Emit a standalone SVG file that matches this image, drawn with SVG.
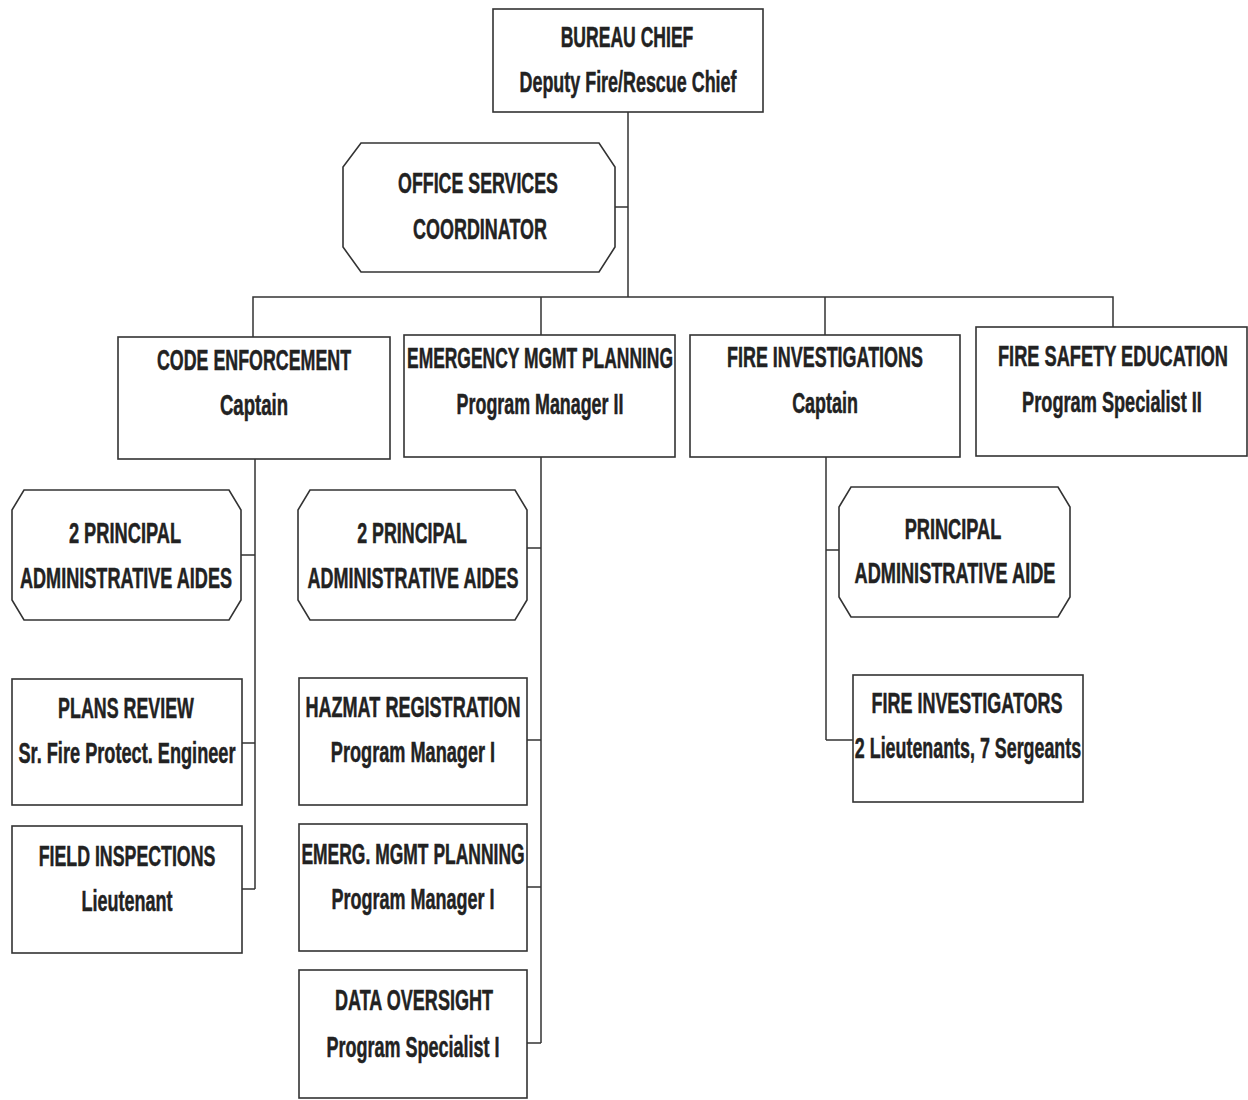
<svg xmlns="http://www.w3.org/2000/svg" width="1248" height="1100" viewBox="0 0 1248 1100">
<style>
.box{fill:#fff;stroke:#333;stroke-width:1.6}
.ln{fill:none;stroke:#333;stroke-width:1.5}
text{font-family:"Liberation Sans",Arial,sans-serif;font-weight:bold;font-size:30px;fill:#222;stroke:#222;stroke-width:0.5;text-anchor:middle}
</style>
<rect width="1248" height="1100" fill="#fff"/>
<g id="connectors">
<path class="ln" d="M628 112V297M615 207H628"/>
<path class="ln" d="M253 337V297H1113V327M541 297V335M825 297V335"/>
<path class="ln" d="M255 459V889M241 555H255M242 743H255M242 889H255"/>
<path class="ln" d="M541 457V1043M527 548H541M527 740H541M527 887H541M527 1043H541"/>
<path class="ln" d="M826 457V740M826 550H839M826 740H853"/>
</g>
<g id="bureau-chief">
<rect class="box" x="493" y="9" width="270" height="103"/>
<text transform="matrix(.62 0 0 1 627 0)" y="47" textLength="214" lengthAdjust="spacingAndGlyphs">BUREAU CHIEF</text>
<text transform="matrix(.62 0 0 1 628 0)" y="92" textLength="350" lengthAdjust="spacingAndGlyphs">Deputy Fire/Rescue Chief</text>
</g>
<g id="office-services">
<path class="box" d="M361 143H599L615 167V247L599 272H361L343 247V167Z"/>
<text transform="matrix(.62 0 0 1 478 0)" y="193" textLength="258" lengthAdjust="spacingAndGlyphs">OFFICE SERVICES</text>
<text transform="matrix(.62 0 0 1 480 0)" y="239" textLength="216" lengthAdjust="spacingAndGlyphs">COORDINATOR</text>
</g>
<g id="code-enforcement">
<rect class="box" x="118" y="337" width="272" height="122"/>
<text transform="matrix(.62 0 0 1 254 0)" y="370" textLength="313" lengthAdjust="spacingAndGlyphs">CODE ENFORCEMENT</text>
<text transform="matrix(.62 0 0 1 254 0)" y="415" textLength="110" lengthAdjust="spacingAndGlyphs">Captain</text>
</g>
<g id="emergency-mgmt">
<rect class="box" x="404" y="335" width="271" height="122"/>
<text transform="matrix(.62 0 0 1 540 0)" y="368" textLength="429" lengthAdjust="spacingAndGlyphs">EMERGENCY MGMT PLANNING</text>
<text transform="matrix(.62 0 0 1 540 0)" y="414" textLength="269" lengthAdjust="spacingAndGlyphs">Program Manager II</text>
</g>
<g id="fire-investigations">
<rect class="box" x="690" y="335" width="270" height="122"/>
<text transform="matrix(.62 0 0 1 825 0)" y="367" textLength="316" lengthAdjust="spacingAndGlyphs">FIRE INVESTIGATIONS</text>
<text transform="matrix(.62 0 0 1 825 0)" y="413" textLength="106" lengthAdjust="spacingAndGlyphs">Captain</text>
</g>
<g id="fire-safety-education">
<rect class="box" x="976" y="327" width="271" height="129"/>
<text transform="matrix(.62 0 0 1 1113 0)" y="366" textLength="371" lengthAdjust="spacingAndGlyphs">FIRE SAFETY EDUCATION</text>
<text transform="matrix(.62 0 0 1 1112 0)" y="412" textLength="290" lengthAdjust="spacingAndGlyphs">Program Specialist II</text>
</g>
<g id="aides-code">
<path class="box" d="M24 490H229L241 510V600L229 620H24L12 600V510Z"/>
<text transform="matrix(.62 0 0 1 125 0)" y="543" textLength="181" lengthAdjust="spacingAndGlyphs">2 PRINCIPAL</text>
<text transform="matrix(.62 0 0 1 126 0)" y="588" textLength="342" lengthAdjust="spacingAndGlyphs">ADMINISTRATIVE AIDES</text>
</g>
<g id="plans-review">
<rect class="box" x="12" y="679" width="230" height="126"/>
<text transform="matrix(.62 0 0 1 126 0)" y="718" textLength="219" lengthAdjust="spacingAndGlyphs">PLANS REVIEW</text>
<text transform="matrix(.62 0 0 1 127 0)" y="763" textLength="350" lengthAdjust="spacingAndGlyphs">Sr. Fire Protect. Engineer</text>
</g>
<g id="field-inspections">
<rect class="box" x="12" y="826" width="230" height="127"/>
<text transform="matrix(.62 0 0 1 127 0)" y="866" textLength="285" lengthAdjust="spacingAndGlyphs">FIELD INSPECTIONS</text>
<text transform="matrix(.62 0 0 1 127 0)" y="911" textLength="147" lengthAdjust="spacingAndGlyphs">Lieutenant</text>
</g>
<g id="aides-emergency">
<path class="box" d="M310 490H515L527 510V600L515 620H310L298 600V510Z"/>
<text transform="matrix(.62 0 0 1 412 0)" y="543" textLength="177" lengthAdjust="spacingAndGlyphs">2 PRINCIPAL</text>
<text transform="matrix(.62 0 0 1 413 0)" y="588" textLength="340" lengthAdjust="spacingAndGlyphs">ADMINISTRATIVE AIDES</text>
</g>
<g id="hazmat">
<rect class="box" x="299" y="678" width="228" height="127"/>
<text transform="matrix(.62 0 0 1 413 0)" y="717" textLength="347" lengthAdjust="spacingAndGlyphs">HAZMAT REGISTRATION</text>
<text transform="matrix(.62 0 0 1 413 0)" y="762" textLength="265" lengthAdjust="spacingAndGlyphs">Program Manager I</text>
</g>
<g id="emerg-mgmt-planning">
<rect class="box" x="299" y="824" width="228" height="127"/>
<text transform="matrix(.62 0 0 1 413 0)" y="864" textLength="360" lengthAdjust="spacingAndGlyphs">EMERG. MGMT PLANNING</text>
<text transform="matrix(.62 0 0 1 413 0)" y="909" textLength="263" lengthAdjust="spacingAndGlyphs">Program Manager I</text>
</g>
<g id="data-oversight">
<rect class="box" x="299" y="970" width="228" height="128"/>
<text transform="matrix(.62 0 0 1 414 0)" y="1010" textLength="255" lengthAdjust="spacingAndGlyphs">DATA OVERSIGHT</text>
<text transform="matrix(.62 0 0 1 413 0)" y="1057" textLength="279" lengthAdjust="spacingAndGlyphs">Program Specialist I</text>
</g>
<g id="aide-fire">
<path class="box" d="M851 487H1058L1070 507V597L1058 617H851L839 597V507Z"/>
<text transform="matrix(.62 0 0 1 953 0)" y="539" textLength="156" lengthAdjust="spacingAndGlyphs">PRINCIPAL</text>
<text transform="matrix(.62 0 0 1 955 0)" y="583" textLength="324" lengthAdjust="spacingAndGlyphs">ADMINISTRATIVE AIDE</text>
</g>
<g id="fire-investigators">
<rect class="box" x="853" y="675" width="230" height="127"/>
<text transform="matrix(.62 0 0 1 967 0)" y="713" textLength="308" lengthAdjust="spacingAndGlyphs">FIRE INVESTIGATORS</text>
<text transform="matrix(.62 0 0 1 968 0)" y="758" textLength="365" lengthAdjust="spacingAndGlyphs">2 Lieutenants, 7 Sergeants</text>
</g>
</svg>
